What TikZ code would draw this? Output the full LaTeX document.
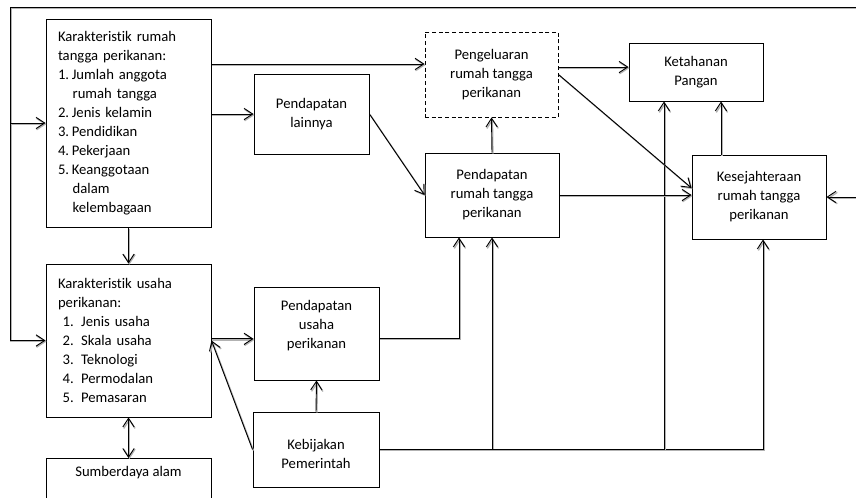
\documentclass[tikz,border=0pt]{standalone}
\usepackage{fontspec}
\setmainfont{Carlito}[Ligatures=NoCommon]
\usetikzlibrary{arrows.meta}
\tikzset{>={Straight Barb[length=6.5pt,width=8.5pt]}}
\tikzset{
  box/.style={draw, line width=0.7pt, align=center, inner sep=3pt},
  listbox/.style={draw, line width=0.7pt, align=left, text width=105.75pt, inner xsep=9pt, minimum width=123.75pt},
  wire/.style={line width=0.7pt, preaction={draw=black!30, line width=1pt, transform canvas={shift={(0.7pt,-0.8pt)}}}}
}

\begin{document}
\begin{tikzpicture}[x=0.75pt, y=-0.75pt, font=\fontsize{11}{14.25}\selectfont]
  \useasboundingbox (0,0) rectangle (856,497);

  \node[listbox, minimum height=156pt] (kr) at (128.5,123) {Karakteristik rumah\\tangga perikanan:\\1.\hspace{2pt}Jumlah anggota\\\hspace*{11pt}rumah tangga\\2.\hspace{2pt}Jenis kelamin\\3.\hspace{2pt}Pendidikan\\4.\hspace{2pt}Pekerjaan\\5.\hspace{2pt}Keanggotaan\\\hspace*{11pt}dalam\\\hspace*{11pt}kelembagaan};
  \node[listbox, minimum height=114.75pt] (ku) at (128.5,340.5) {Karakteristik usaha\\perikanan:\\\hspace*{3.5pt}1. Jenis usaha\\\hspace*{3.5pt}2. Skala usaha\\\hspace*{3.5pt}3. Teknologi\\\hspace*{3.5pt}4. Permodalan\\\hspace*{3.5pt}5. Pemasaran};
  \node[box, minimum width=123.75pt, inner ysep=6pt, anchor=north] (sda) at (128.5,458) {Sumberdaya alam\\~};

  \node[box, minimum width=86.25pt, minimum height=60pt] (lain) at (311.5,114) {Pendapatan\\lainnya};
  \node[box, minimum width=93.75pt, minimum height=69.75pt] (pup) at (316.5,333.5) {Pendapatan\\usaha\\perikanan\\~};
  \node[box, minimum width=94.5pt, minimum height=56.25pt] (keb) at (316,449.5) {~\\Kebijakan\\Pemerintah};

  \node[box, dash pattern=on 3pt off 2pt, minimum width=99.75pt, minimum height=63.75pt] (keluar) at (491.5,74.5) {Pengeluaran\\rumah tangga\\perikanan};
  \node[box, minimum width=100.5pt, minimum height=63pt] (prt) at (492,195) {Pendapatan\\rumah tangga\\perikanan};
  \node[box, minimum width=100.5pt, minimum height=43.5pt] (tahan) at (696,72) {Ketahanan\\Pangan};
  \node[box, minimum width=100.5pt, minimum height=63pt] (sejah) at (759,197) {Kesejahteraan\\rumah tangga\\perikanan};

  % outer loop
  \coordinate (ftl) at (10,7);
  \coordinate (ftr) at (880,7);
  \draw[wire,->] (ftr) -- (ftl) |- (ku.west);
  \draw[wire,->] (ftl |- kr.west) -- (kr.west);
  \draw[wire,->] (ftr) |- (sejah.east);

  \coordinate (k1) at ([yshift=7.9pt]keluar.west);
  \coordinate (k2) at ([yshift=5.6pt]keluar.east);
  \coordinate (p1) at ([yshift=-4pt]pup.west);
  \coordinate (s1) at ([xshift=-28.5pt]sejah.north);

  \draw[wire,->] (kr.east |- k1) -- (k1);
  \draw[wire,->] (kr.east |- lain.west) -- (lain.west);
  \draw[wire,->] (kr.south) -- (ku.north);
  \draw[wire,<->] (ku.south) -- (sda.north);
  \draw[wire,->] (ku.east |- p1) -- (p1);
  \draw[wire,->] (keb.west) -- (ku.east);
  \draw[wire,->] (keb.north) -- (pup.south);
  \draw[wire,->] ([yshift=-3.4pt]pup.east) -| ([xshift=-24.75pt]prt.south);
  \draw[wire,->] (keb.east) -| ([xshift=3pt]sejah.south);
  \draw[wire,->] (keb.east) -| (prt.south);
  \draw[wire,->] (keb.east) -| ([xshift=-24pt]tahan.south);
  \draw[wire,->] (lain.east) -- (prt.west);
  \draw[wire,->] (prt.north) -- (keluar.south);
  \draw[wire,->] (k2) -- (tahan.west |- k2);
  \draw[wire,->] (keluar.east) -- ([yshift=6.75pt]sejah.west);
  \draw[wire,->] (prt.east) -- (sejah.west |- prt.east);
  \draw[wire,->] (s1) -- (s1 |- tahan.south);
\end{tikzpicture}
\end{document}
